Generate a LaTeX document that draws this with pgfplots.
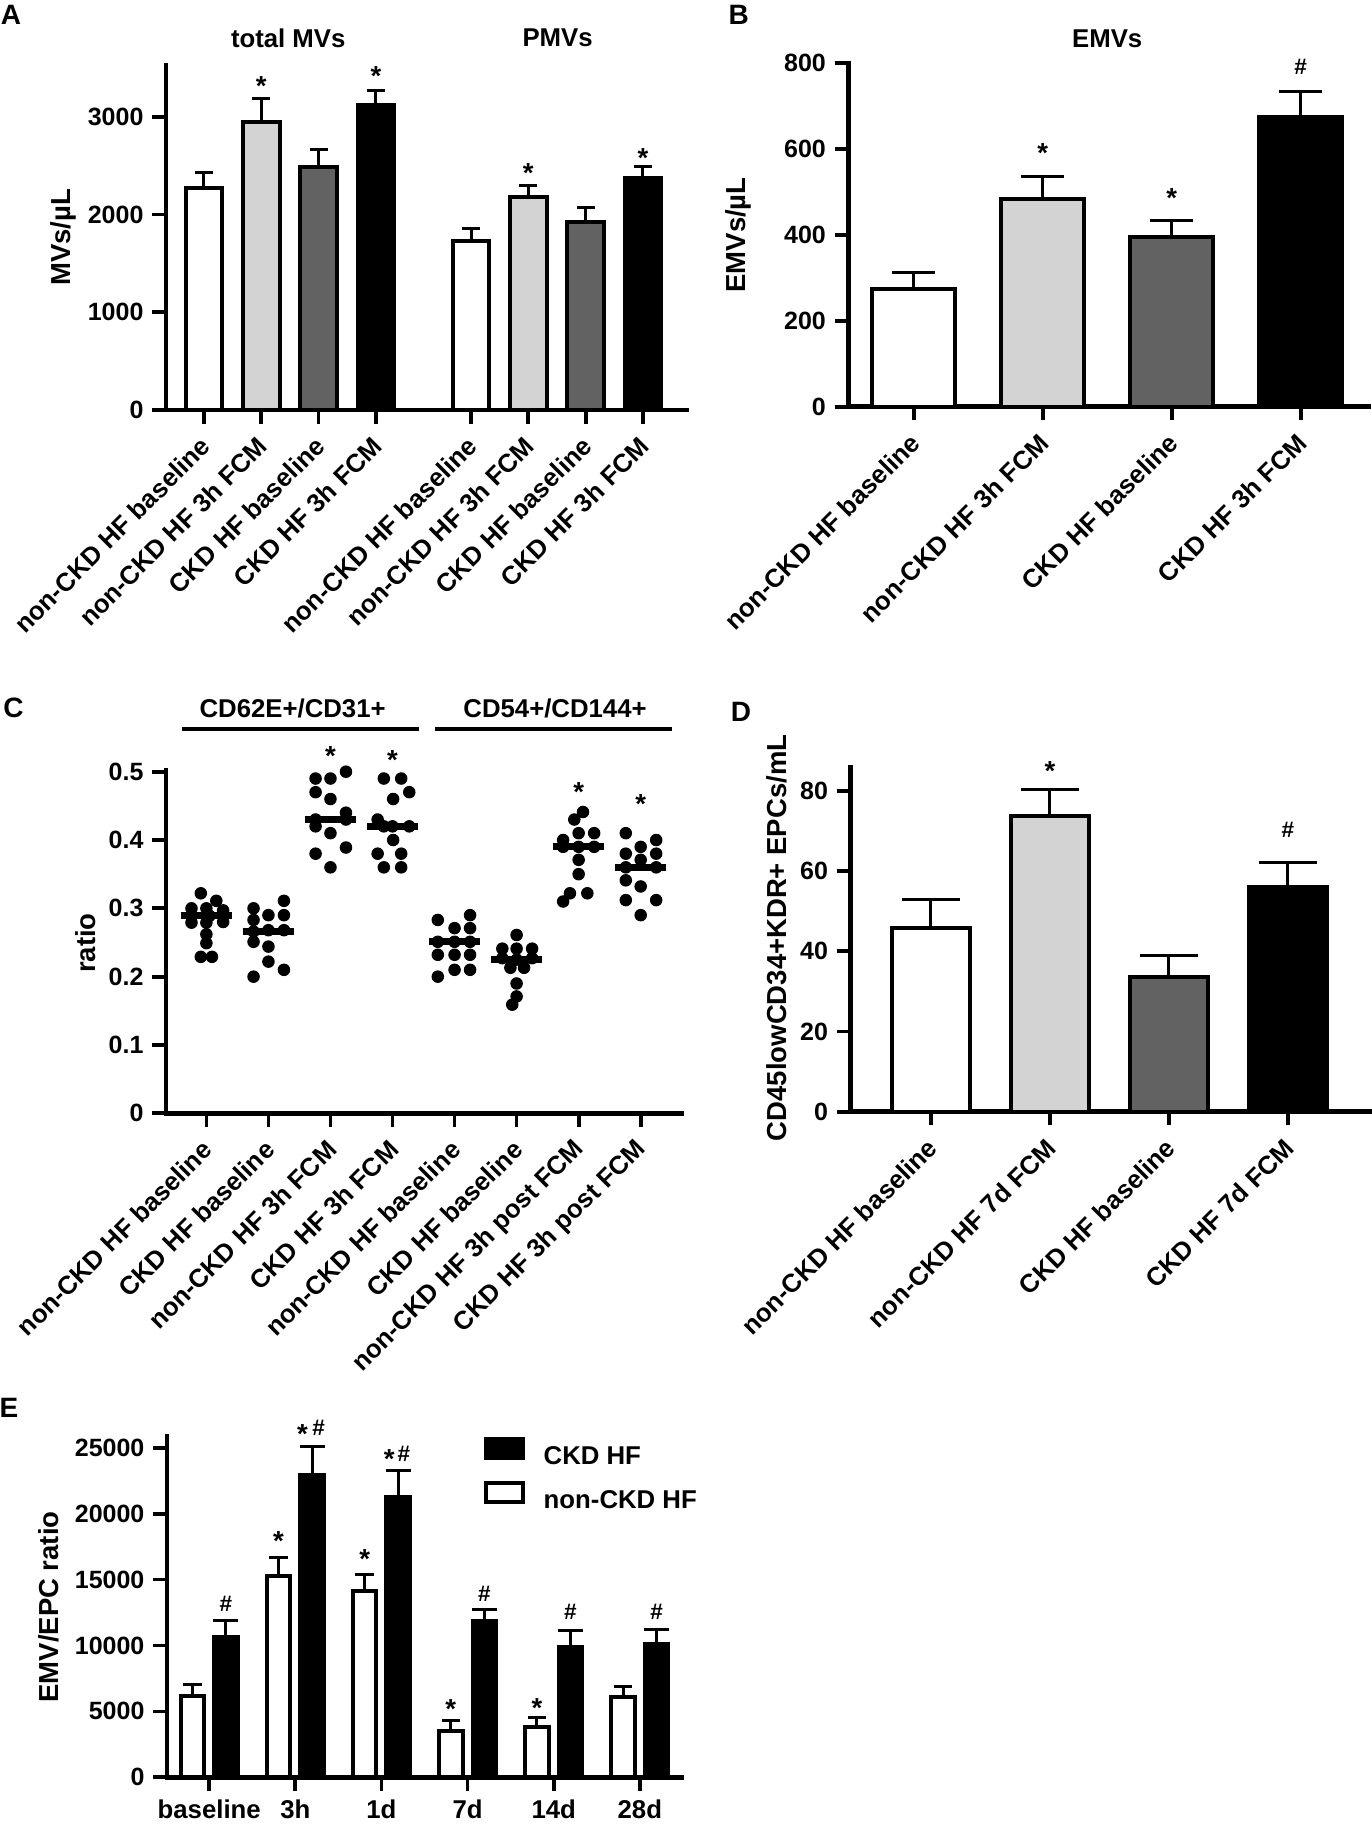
\documentclass[border=0pt]{standalone}
\usepackage{fontspec}
\setmainfont{Liberation Sans}
\usepackage{pgfplots}
\pgfplotsset{compat=1.18}
\definecolor{lgray}{RGB}{211,211,211}
\definecolor{dgray}{RGB}{98,98,98}
\newcommand{\fs}[1]{\fontsize{#1}{#1}\selectfont\bfseries}
\pgfplotsset{
  gp/.style={
    scale only axis, clip=false, anchor=south west,
    axis x line*=bottom, axis y line*=left,
    axis line style={line width=1.8pt, -, line cap=rect},
    tick style={line width=1.5pt, black},
    major tick length=5.5pt, tick align=outside,
    minor tick num=0, ymin=0, enlargelimits=false,
    tick label style={font=\fs{10}},
    /pgf/number format/assume math mode=true,
    /pgf/number format/1000 sep={},
    scaled y ticks=false,
    label style={font=\fs{11}},
  },
  catlab/.style={xticklabel style={rotate=45, anchor=east, font=\fs{10.3}, inner sep=0pt, xshift=-4.6pt, yshift=-5.5pt}},
}
\tikzset{
  gpstar/.style={font=\fs{11}, yshift=-2.4pt, inner sep=0pt},
  gphash/.style={font=\fs{9}, inner sep=0pt},
}
% bar: width, fill, cap half size, coordinates
\newcommand{\gpbar}[4]{\addplot[ybar, bar shift=0pt, bar width=#1, fill=#2, draw=black, line width=1.6pt,
  error bars/.cd, y dir=plus, y explicit, error bar style={line width=1.2pt, black},
  error mark options={rotate=90, line width=1.2pt, black, mark size=#3}] coordinates {#4};}
\begin{document}
\begin{tikzpicture}
\path[use as bounding box] (0,0) rectangle (548.4pt,730pt);
% panel letters
\node[font=\fs{11.2}] at (4.4pt,724pt) {A};
\node[font=\fs{11.2}] at (295.5pt,724pt) {B};
\node[font=\fs{11.2}] at (5.4pt,446.8pt) {C};
\node[font=\fs{11.2}] at (296.4pt,445.3pt) {D};
\node[font=\fs{11.2}] at (3.6pt,166.8pt) {E};

% ---------------- A
\begin{axis}[gp, catlab, at={(66.4pt,566pt)}, width=208.2pt, height=138pt,
  xmin=-0.663, xmax=8.42, ymax=3530, ytick={0,1000,2000,3000},
  xtick={0,1,2,3,4.66,5.66,6.66,7.66},
  xticklabels={non-CKD HF baseline, non-CKD HF 3h FCM, CKD HF baseline, CKD HF 3h FCM, non-CKD HF baseline, non-CKD HF 3h FCM, CKD HF baseline, CKD HF 3h FCM},
  ylabel={MVs/µL}, ylabel style={at={(axis description cs:-0.198,0.5)}, anchor=center}]
\gpbar{0.64}{white}{3.6pt}{(0,2267) +- (0,164)}
\gpbar{0.64}{lgray}{3.6pt}{(1,2942) +- (0,242)}
\gpbar{0.64}{dgray}{3.6pt}{(2,2489) +- (0,181)}
\gpbar{0.64}{black}{3.6pt}{(3,3116) +- (0,157)}
\gpbar{0.64}{white}{3.6pt}{(4.66,1732) +- (0,126)}
\gpbar{0.64}{lgray}{3.6pt}{(5.66,2182) +- (0,116)}
\gpbar{0.64}{dgray}{3.6pt}{(6.66,1926) +- (0,144)}
\gpbar{0.64}{black}{3.6pt}{(7.66,2370) +- (0,126)}
\node[font=\fs{10.3}] at (axis cs:1.47,3804) {total MVs};
\node[font=\fs{10.3}] at (axis cs:6.17,3804) {PMVs};
\node[gpstar] at (axis cs:1,3374) {*};
\node[gpstar] at (axis cs:3,3476) {*};
\node[gpstar] at (axis cs:5.66,2488) {*};
\node[gpstar] at (axis cs:7.66,2641) {*};
\end{axis}

% ---------------- B
\begin{axis}[gp, catlab, at={(339.36pt,567.32pt)}, width=208.12pt, height=137.36pt,
  xmin=-0.506, xmax=3.527, ymax=800, ytick={0,200,400,600,800},
  xtick={0,1,2,3},
  xticklabels={non-CKD HF baseline, non-CKD HF 3h FCM, CKD HF baseline, CKD HF 3h FCM},
  ylabel={EMVs/µL}, ylabel style={at={(axis description cs:-0.211,0.5)}, anchor=center}]
\gpbar{0.643}{white}{8.6pt}{(0,274) +- (0,38)}
\gpbar{0.643}{lgray}{8.6pt}{(1,484) +- (0,52)}
\gpbar{0.643}{dgray}{8.6pt}{(2,396) +- (0,38)}
\gpbar{0.643}{black}{8.6pt}{(3,676) +- (0,58)}
\node[font=\fs{10.3}] at (axis cs:1.5,858) {EMVs};
\node[gpstar] at (axis cs:1,606) {*};
\node[gpstar] at (axis cs:2,499) {*};
\node[gphash] at (axis cs:3,792) {\#};
\end{axis}

% ---------------- C
\begin{axis}[gp, catlab, at={(66.4pt,284.68pt)}, width=206.4pt, height=137.32pt,
  xmin=-0.651, xmax=7.666, ymax=0.5025, ytick={0,0.1,0.2,0.3,0.4,0.5},
  yticklabel style={/pgf/number format/fixed, /pgf/number format/precision=1},
  xtick={0,1,2,3,4,5,6,7},
  xticklabels={non-CKD HF baseline, CKD HF baseline, non-CKD HF 3h FCM, CKD HF 3h FCM, non-CKD HF baseline, CKD HF baseline, non-CKD HF 3h post FCM, CKD HF 3h post FCM},
  ylabel={ratio}, ylabel style={at={(axis description cs:-0.156,0.496)}, anchor=center}]
\addplot[only marks, mark=*, mark size=2.3pt, black] coordinates {
 (-0.09,0.322) (0.16,0.311) (-0.24,0.300) (0.0,0.300) (0.27,0.297) (-0.24,0.288) (0.05,0.289)
 (-0.24,0.279) (0.0,0.279) (0.27,0.280) (0.0,0.262) (0.0,0.249) (-0.09,0.229) (0.09,0.229)};
\addplot[only marks, mark=*, mark size=2.3pt, black] coordinates {
 (0.76,0.300) (1.25,0.311) (1.0,0.290) (1.25,0.290) (0.76,0.283) (1.0,0.268) (1.25,0.268)
 (0.76,0.251) (1.0,0.244) (1.0,0.222) (0.76,0.200) (1.25,0.210) (0.76,0.266)};
\addplot[only marks, mark=*, mark size=2.3pt, black] coordinates {
 (1.76,0.490) (2.0,0.490) (2.25,0.500) (1.76,0.470) (2.0,0.460) (2.25,0.440) (1.76,0.430)
 (2.25,0.430) (1.76,0.420) (2.0,0.410) (2.25,0.389) (1.76,0.380) (2.0,0.360)};
\addplot[only marks, mark=*, mark size=2.3pt, black] coordinates {
 (2.86,0.490) (3.14,0.490) (3.27,0.470) (3.01,0.460) (2.76,0.430) (3.0,0.420) (3.27,0.420)
 (3.01,0.400) (2.76,0.380) (3.14,0.380) (2.86,0.360) (3.14,0.360) (2.86,0.420)};
\addplot[only marks, mark=*, mark size=2.3pt, black] coordinates {
 (3.73,0.283) (4.25,0.290) (4.0,0.271) (4.25,0.271) (3.73,0.251) (4.25,0.251) (3.73,0.232)
 (4.0,0.232) (4.25,0.232) (3.73,0.200) (4.0,0.210) (4.25,0.210) (4.0,0.251)};
\addplot[only marks, mark=*, mark size=2.3pt, black] coordinates {
 (5.0,0.261) (4.77,0.241) (5.0,0.241) (5.25,0.241) (4.77,0.227) (5.25,0.227) (4.9,0.213)
 (5.12,0.213) (5.0,0.225) (5.0,0.190) (5.0,0.171) (4.93,0.159)};
\addplot[only marks, mark=*, mark size=2.3pt, black] coordinates {
 (6.07,0.441) (5.93,0.430) (6.0,0.410) (6.25,0.410) (5.75,0.390) (6.25,0.390) (6.0,0.390)
 (5.75,0.400) (6.0,0.371) (6.0,0.350) (5.86,0.322) (6.14,0.322) (5.75,0.310)};
\addplot[only marks, mark=*, mark size=2.3pt, black] coordinates {
 (6.76,0.410) (7.25,0.400) (7.0,0.390) (6.76,0.380) (7.25,0.380) (7.0,0.371) (6.76,0.360)
 (7.25,0.360) (6.76,0.341) (7.0,0.332) (6.76,0.312) (7.25,0.312) (7.0,0.290)};
% medians
\addplot[line width=2.7pt, black] coordinates {(-0.415,0.290) (0.415,0.290)};
\addplot[line width=2.7pt, black] coordinates {(0.585,0.266) (1.415,0.266)};
\addplot[line width=2.7pt, black] coordinates {(1.585,0.430) (2.415,0.430)};
\addplot[line width=2.7pt, black] coordinates {(2.585,0.4195) (3.415,0.4195)};
\addplot[line width=2.7pt, black] coordinates {(3.585,0.251) (4.415,0.251)};
\addplot[line width=2.7pt, black] coordinates {(4.585,0.225) (5.415,0.225)};
\addplot[line width=2.7pt, black] coordinates {(5.585,0.390) (6.415,0.390)};
\addplot[line width=2.7pt, black] coordinates {(6.585,0.360) (7.415,0.360)};
\draw[line width=1.6pt] (axis cs:-0.40,0.562) -- (axis cs:3.43,0.562);
\draw[line width=1.6pt] (axis cs:3.69,0.562) -- (axis cs:7.50,0.562);
\node[font=\fs{10.3}] at (axis cs:1.39,0.593) {CD62E+/CD31+};
\node[font=\fs{10.3}] at (axis cs:5.62,0.593) {CD54+/CD144+};
\node[gpstar] at (axis cs:2,0.532) {*};
\node[gpstar] at (axis cs:3,0.526) {*};
\node[gpstar] at (axis cs:6,0.479) {*};
\node[gpstar] at (axis cs:7,0.461) {*};
\end{axis}

% ---------------- D
\begin{axis}[gp, catlab, at={(340.2pt,285.32pt)}, width=208.12pt, height=137.96pt,
  xmin=-0.676, xmax=3.697, ymax=86, ytick={0,20,40,60,80},
  xtick={0,1,2,3},
  xticklabels={non-CKD HF baseline, non-CKD HF 7d FCM, CKD HF baseline, CKD HF 7d FCM},
  ylabel={CD45lowCD34+KDR+ EPCs/mL}, ylabel style={at={(axis description cs:-0.142,0.504)}, anchor=center}]
\gpbar{0.65}{white}{11.5pt}{(0,45.7) +- (0,7.3)}
\gpbar{0.65}{lgray}{11.5pt}{(1,73.8) +- (0,6.6)}
\gpbar{0.65}{dgray}{11.5pt}{(2,33.7) +- (0,5.3)}
\gpbar{0.65}{black}{11.5pt}{(3,56.0) +- (0,6.1)}
\node[gpstar] at (axis cs:1,86.5) {*};
\node[gphash] at (axis cs:3,70.3) {\#};
\end{axis}

% ---------------- E
\begin{axis}[gp, at={(66.8pt,19.08pt)}, width=206pt, height=136.24pt,
  xmin=-0.49, xmax=5.49, ymax=25840, ytick={0,5000,10000,15000,20000,25000},
  xtick={0,1,2,3,4,5},
  xticklabels={baseline,3h,1d,7d,14d,28d},
  xticklabel style={font=\fs{10.3}},
  ylabel={EMV/EPC ratio}, ylabel style={at={(axis description cs:-0.23,0.5)}, anchor=center},
  legend style={at={(axis description cs:0.615,1.0)}, anchor=north west, draw=none, fill=none,
    inner sep=0pt, outer sep=0pt, row sep=4.9pt, font=\fs{10.3}, nodes={inner sep=0pt},
    /tikz/every odd column/.append style={column sep=7.6pt}},
  legend cell align=left]
\addplot[ybar, bar shift=0pt, bar width=0.273, fill=black, draw=black, line width=1.6pt,
  legend image code/.code={\draw[fill=black, draw=black, line width=1.6pt] (0.8pt,-0.16pt) rectangle (15.6pt,7.54pt);},
  error bars/.cd, y dir=plus, y explicit, error bar style={line width=1.2pt, black},
  error mark options={rotate=90, line width=1.2pt, black, mark size=5pt}]
  coordinates {(0.195,10667) +- (0,1214) (1.195,22927) +- (0,2149) (2.195,21234) +- (0,2022)
               (3.195,11855) +- (0,910) (4.195,9858) +- (0,1315) (5.195,10111) +- (0,1138)};
\addlegendentry{CKD HF}
\addplot[ybar, bar shift=0pt, bar width=0.273, fill=white, draw=black, line width=1.6pt,
  legend image code/.code={\draw[fill=white, draw=black, line width=1.6pt] (0.8pt,-0.16pt) rectangle (15.6pt,7.54pt);},
  error bars/.cd, y dir=plus, y explicit, error bar style={line width=1.2pt, black},
  error mark options={rotate=90, line width=1.2pt, black, mark size=3.7pt}]
  coordinates {(-0.195,6193) +- (0,860) (0.805,15268) +- (0,1441) (1.805,14105) +- (0,1315)
               (2.805,3539) +- (0,758) (3.805,3842) +- (0,708) (4.805,6067) +- (0,809)};
\addlegendentry{non-CKD HF}
\node[gphash] at (axis cs:0.195,13195) {\#};
\node[gpstar] at (axis cs:0.805,18377) {*};
\node[gpstar] at (axis cs:1.083,26517) {*};
\node[gphash] at (axis cs:1.27,26517) {\#};
\node[gpstar] at (axis cs:1.805,16987) {*};
\node[gpstar] at (axis cs:2.09,24570) {*};
\node[gphash] at (axis cs:2.26,24570) {\#};
\node[gpstar] at (axis cs:2.805,5612) {*};
\node[gphash] at (axis cs:3.195,13954) {\#};
\node[gpstar] at (axis cs:3.805,5739) {*};
\node[gphash] at (axis cs:4.195,12563) {\#};
\node[gphash] at (axis cs:5.195,12563) {\#};
\end{axis}
\end{tikzpicture}
\end{document}
